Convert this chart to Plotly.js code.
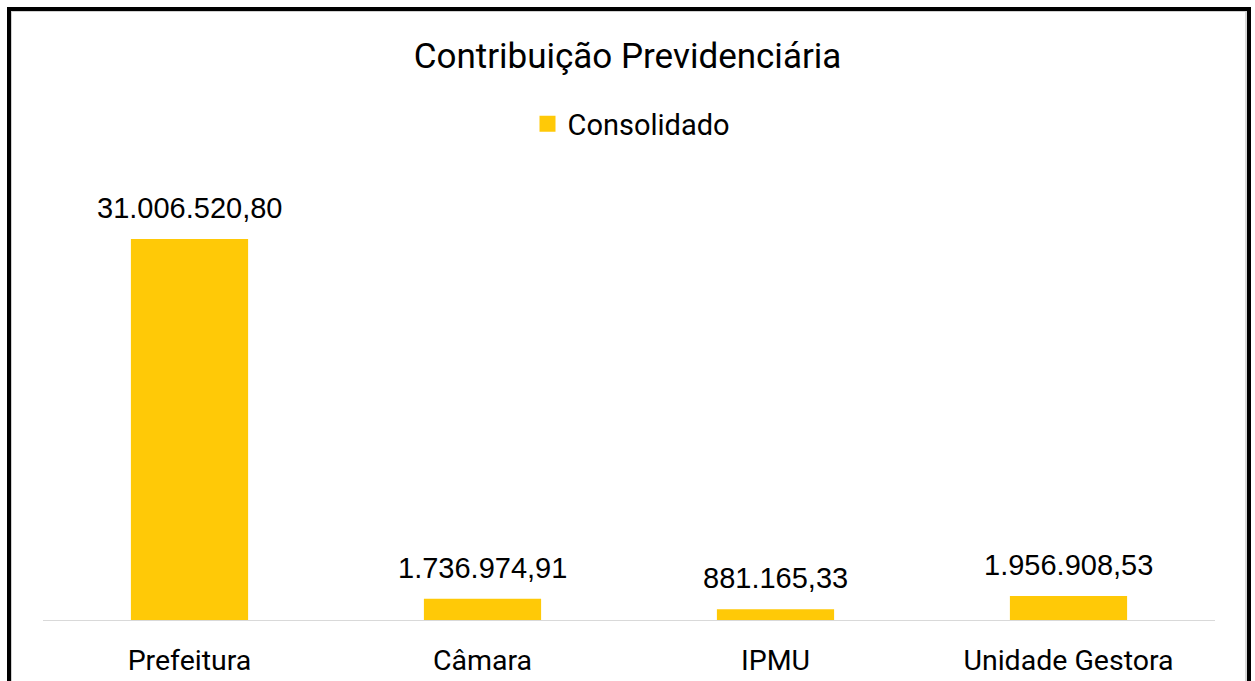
<!DOCTYPE html>
<html>
<head>
<meta charset="utf-8">
<script src="https://cdn.plot.ly/plotly-3.0.1.min.js"></script>
<style>
  html, body { margin:0; padding:0; background:#fff; overflow:hidden; }
  #chart { position:absolute; left:0; top:0; width:1255px; height:681px; }
  #frame { position:absolute; left:7px; top:7px; width:1236px; height:720px;
           border:4px solid #000; box-shadow: inset 1px 1px 0 #d0d0d0, inset -2px 0 0 #d8d8d8;
           pointer-events:none; }
</style>
</head>
<body>
<div id="chart"></div>
<div id="frame"></div>
<script>
const categories = ["Prefeitura", "Câmara", "IPMU", "Unidade Gestora"];
const consolidado = [31006520.80, 1736974.91, 881165.33, 1956908.53];
const seriesName = "Consolidado";
const barColor = "#FFC907";

function fmtBR(v) {
  const parts = v.toFixed(2).split(".");
  const intPart = parts[0].replace(/\B(?=(\d{3})+(?!\d))/g, ".");
  return intPart + "," + parts[1];
}

const traces = [
  {
    type: "bar",
    x: categories,
    y: consolidado,
    name: seriesName,
    marker: { color: barColor },
    showlegend: false,
    hoverinfo: "x+y"
  },
  {
    type: "scatter",
    mode: "markers",
    x: [null],
    y: [null],
    name: seriesName,
    marker: { symbol: "square", size: 19, color: barColor },
    showlegend: true
  }
];

const annotations = categories.map((c, i) => ({
  x: c,
  y: consolidado[i],
  xref: "x",
  yref: "y",
  text: fmtBR(consolidado[i]),
  showarrow: false,
  yanchor: "bottom",
  yshift: 13,
  font: { family: "Liberation Sans, Arial, sans-serif", size: 29, color: "#000" }
}));

const layout = {
  width: 1255,
  height: 681,
  margin: { l: 43, r: 40, t: 190, b: 61 },
  paper_bgcolor: "rgba(0,0,0,0)",
  plot_bgcolor: "rgba(0,0,0,0)",
  bargap: 0.6,
  title: {
    text: "Contribuição Previdenciária",
    x: 0.5, xanchor: "center",
    y: 1 - 56 / 681, yanchor: "middle", yref: "container",
    font: { family: "Roboto, sans-serif", size: 35, color: "#000" }
  },
  legend: {
    orientation: "h",
    x: 0.5 + 4 / 1255, xanchor: "center", xref: "container",
    y: 1 - 124 / 681, yanchor: "middle", yref: "container",
    font: { family: "Roboto, sans-serif", size: 29, color: "#000" },
    itemwidth: 30
  },
  xaxis: {
    type: "category",
    showline: true,
    linecolor: "#D9D9D9",
    linewidth: 1,
    showgrid: false,
    ticks: "",
    ticklabelstandoff: 15,
    tickfont: { family: "Roboto, sans-serif", size: 28.5, color: "#000" },
    fixedrange: true
  },
  yaxis: {
    range: [0, 35000000],
    visible: false,
    showgrid: false,
    zeroline: false,
    fixedrange: true
  },
  annotations: annotations,
  showlegend: true
};

Plotly.newPlot("chart", traces, layout, { displayModeBar: false, staticPlot: true });
</script>
</body>
</html>
